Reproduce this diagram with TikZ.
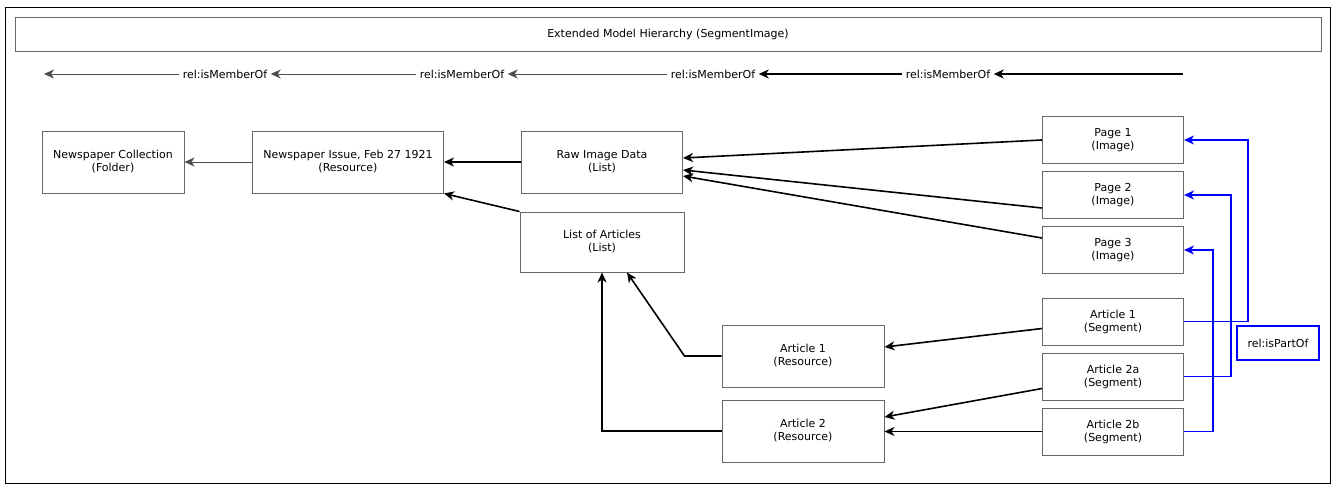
\documentclass[tikz,border=0pt]{standalone}
\usepackage{fontspec}
\setmainfont{DejaVu Sans}
\usetikzlibrary{arrows.meta,positioning}

\begin{document}
\begin{tikzpicture}[x=1pt,y=-1pt,on grid,>={Stealth[length=10pt,width=9pt,inset=3pt]},
  every node/.style={font=\fontsize{11}{13}\selectfont},
  box/.style={draw=black!60,line width=1pt,align=center,minimum height=62pt},
  seg/.style={box,minimum width=141pt,minimum height=47pt},
  link/.style={->,line width=1.6pt},
  thinlink/.style={->,line width=1pt,draw=black!70},
  part/.style={->,line width=1.5pt,draw=blue}]
  \useasboundingbox (0,0) rectangle (1333,485);
  \draw[line width=1pt] (5,7) rectangle (1330,483);
  \node[box,minimum width=1306pt,minimum height=34pt] (title) at (668,34) {Extended Model Hierarchy (SegmentImage)};

  % membership row
  \node (m1) at (225,74) {rel:isMemberOf};
  \node (m2) at (462,74) {rel:isMemberOf};
  \node (m3) at (713,74) {rel:isMemberOf};
  \node (m4) at (948,74) {rel:isMemberOf};
  \coordinate (rowstart) at (1183,74);
  \coordinate (rowend) at (44,74);

  \node[box,minimum width=142pt] (coll)  at (113,162)           {Newspaper Collection\\(Folder)};
  \node[box,minimum width=191pt] (issue) [right=235pt of coll]  {Newspaper Issue, Feb 27 1921\\(Resource)};
  \node[box,minimum width=161pt] (raw)   [right=254pt of issue] {Raw Image Data\\(List)};
  \node[box,minimum width=164pt,minimum height=60pt] (loa) [below=80pt of raw] {List of Articles\\(List)};
  \node[box,minimum width=162pt] (ar1)   at (803,356)           {Article 1\\(Resource)};
  \node[box,minimum width=162pt] (ar2)   [below=75pt of ar1]    {Article 2\\(Resource)};
  \node[seg] (p1) at (1113,140)        {Page 1\\(Image)};
  \node[seg] (p2) [below=55pt of p1]   {Page 2\\(Image)};
  \node[seg] (p3) [below=55pt of p2]   {Page 3\\(Image)};
  \node[seg] (s1) [below=71.5pt of p3] {Article 1\\(Segment)};
  \node[seg] (s2) [below=55pt of s1]   {Article 2a\\(Segment)};
  \node[seg] (s3) [below=55pt of s2]   {Article 2b\\(Segment)};
  \node[draw=blue,line width=1.5pt,minimum width=82pt,minimum height=34pt] (partof) at (1278,343) {rel:isPartOf};

  \draw[link] (rowstart) -- (m4);
  \draw[link] (m4) -- (m3);
  \draw[thinlink] (m3) -- (m2);
  \draw[thinlink] (m2) -- (m1);
  \draw[thinlink] (m1) -- (rowend);

  \draw[thinlink] (issue) -- (coll);
  \draw[link] (raw) -- (issue);
  \draw[link] (loa.north west) -- (issue.south east);
  \draw[link] (p1.west) -- ([yshift=4pt]raw.east);
  \draw[link] ([yshift=-13pt]p2.west) -- ([yshift=-8pt]raw.east);
  \draw[link] ([yshift=12pt]p3.west) -- ([yshift=-14pt]raw.east);
  \draw[link] (ar1.west) -- ++(-37,0) -- ([xshift=25pt]loa.south);
  \draw[link] (ar2.west) -| (loa.south);
  \draw[link] ([yshift=-7pt]s1.west) -- ([yshift=9pt]ar1.east);
  \draw[link] ([yshift=-12pt]s2.west) -- ([yshift=14pt]ar2.east);
  \draw[link] (s3.west) -- (s3.west -| ar2.east);

  \draw[part] (s1.east) -- ++(64,0) |- (p1.east);
  \draw[part] (s2.east) -- ++(47,0) |- (p2.east);
  \draw[part] (s3.east) -- ++(29,0) |- (p3.east);
\end{tikzpicture}
\end{document}
